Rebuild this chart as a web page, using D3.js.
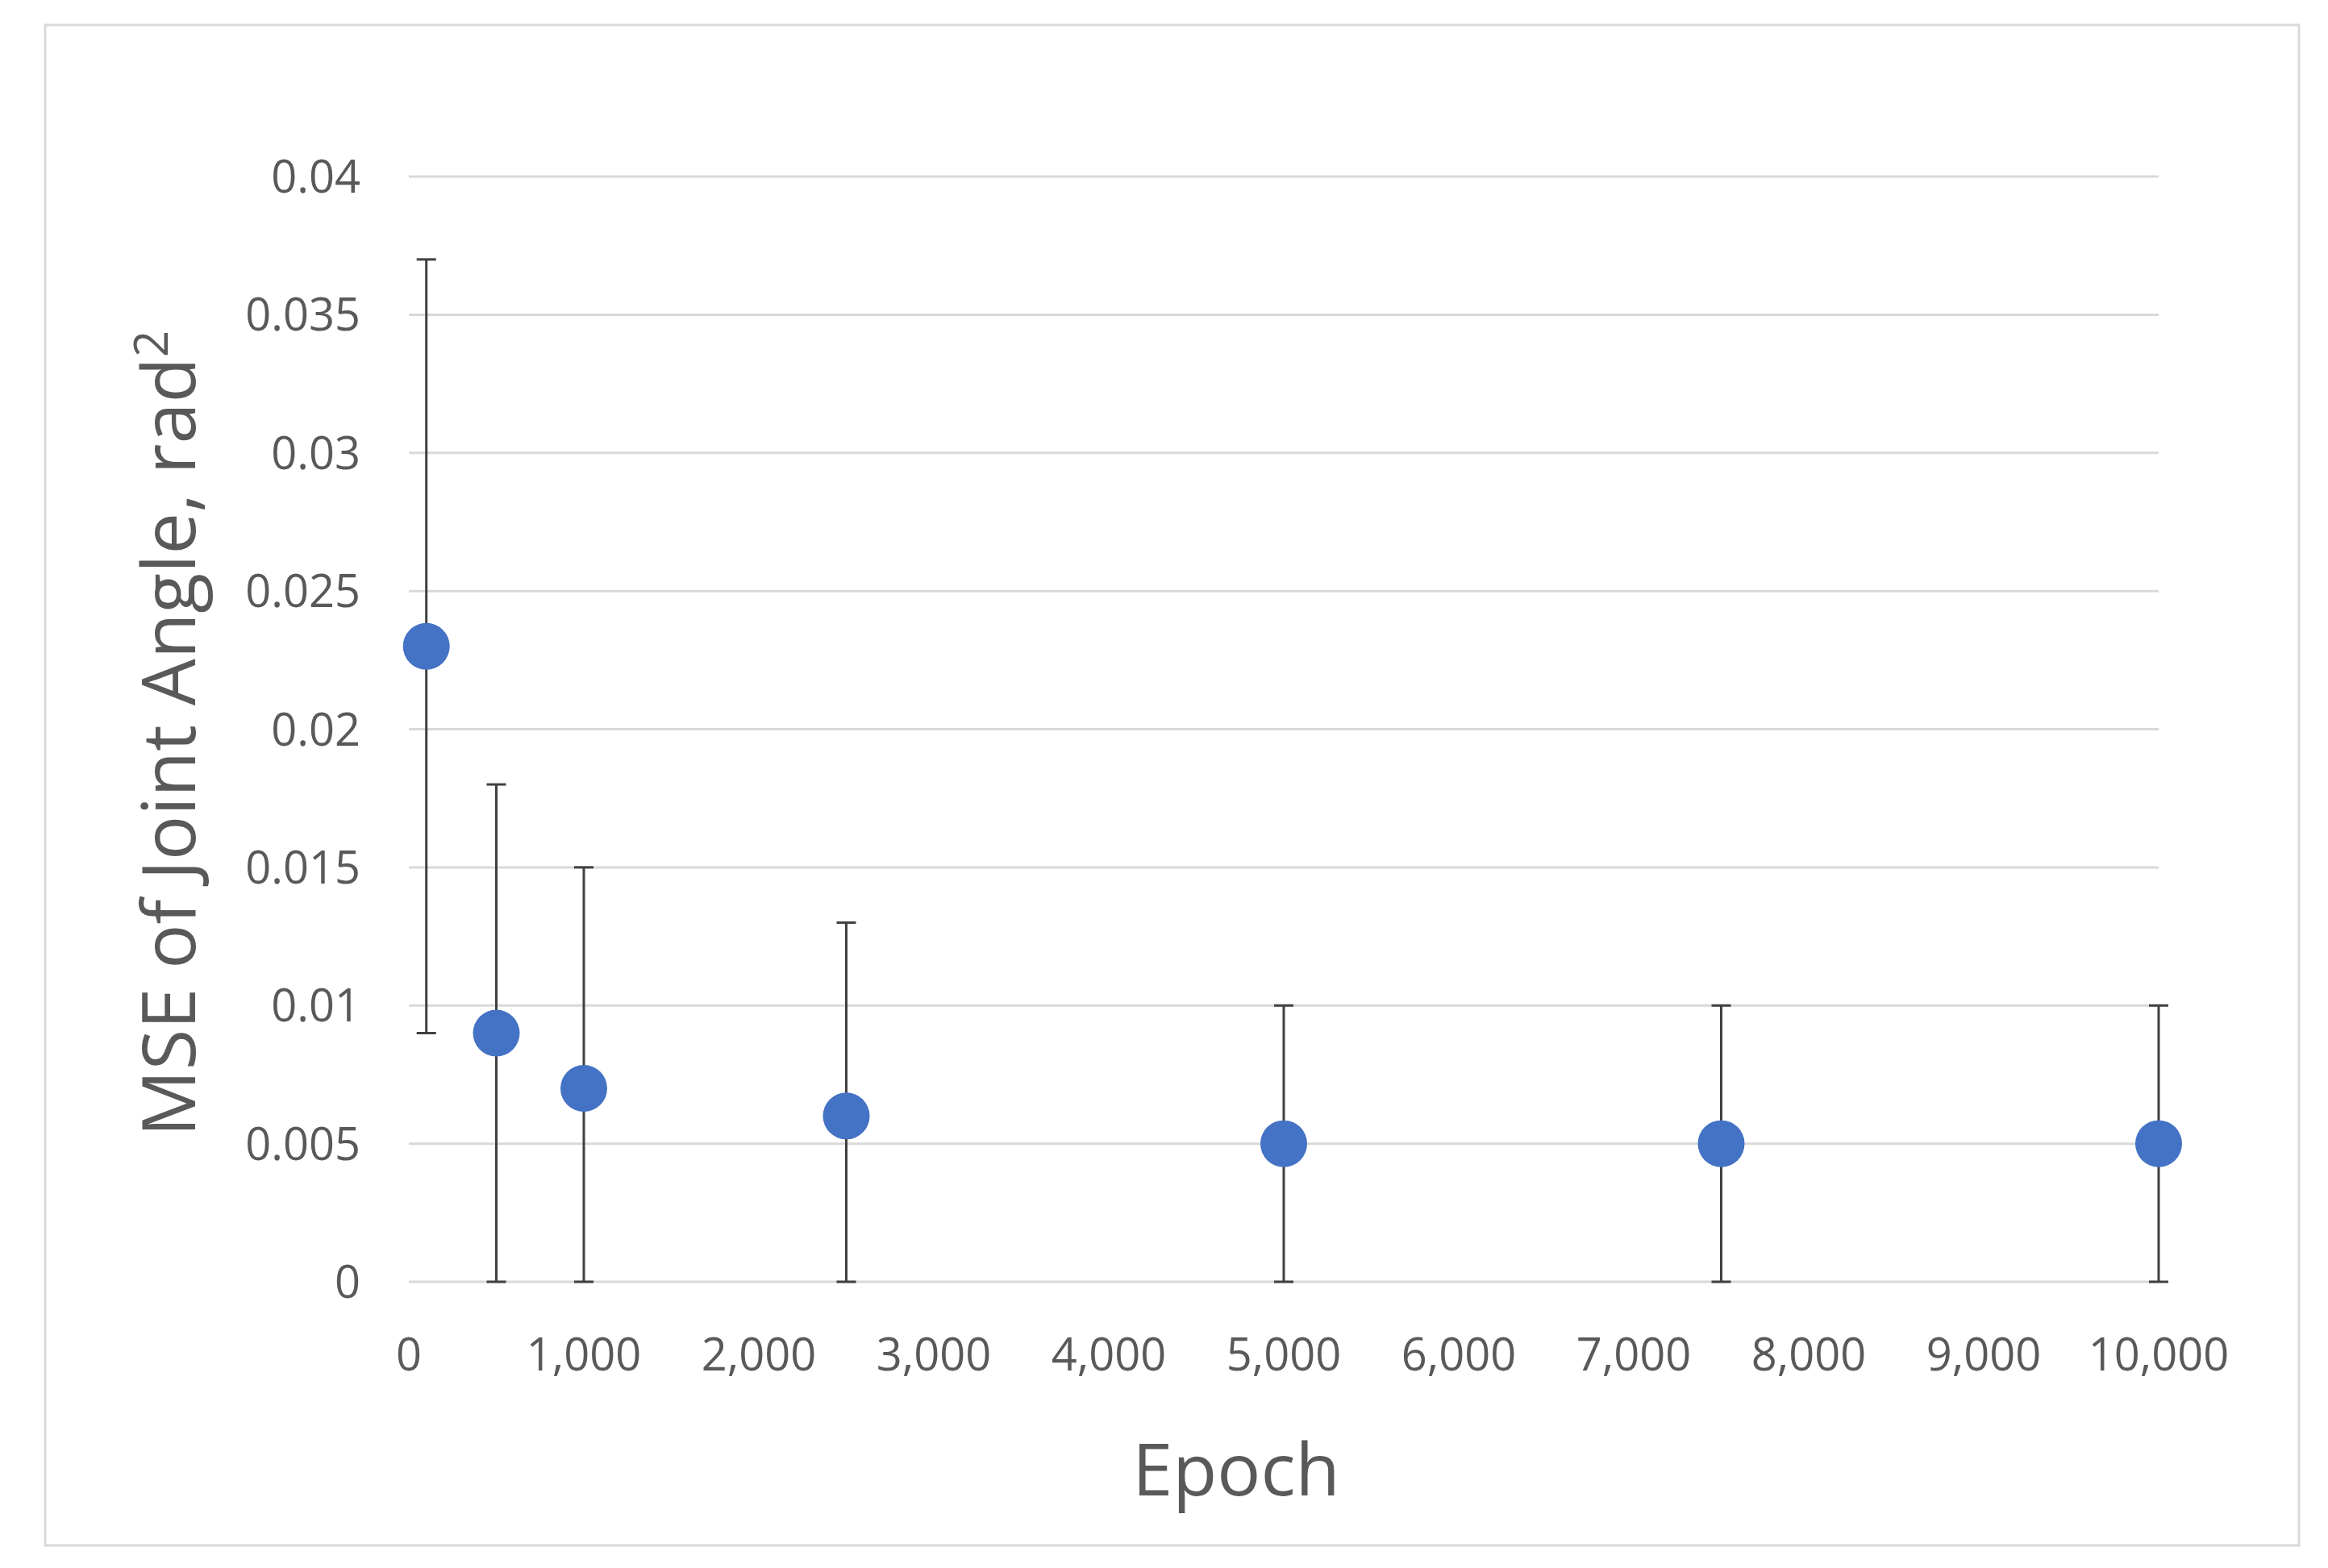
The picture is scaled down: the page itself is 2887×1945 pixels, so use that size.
<!DOCTYPE html>
<html><head><meta charset="utf-8">
<script src="https://cdn.jsdelivr.net/npm/d3@7"></script>
<style>body{margin:0;background:#fff}text{font-family:"Open Sans",Calibri,sans-serif;fill:#595959}</style>
</head><body><div id="chart"></div>
<script>
var epochs = [100, 500, 1000, 2500, 5000, 7500, 10000];
var mse = [0.023, 0.009, 0.007, 0.006, 0.005, 0.005, 0.005];
var errHigh = [0.037, 0.018, 0.015, 0.013, 0.010, 0.010, 0.010];
var errLow = [0.009, 0, 0, 0, 0, 0, 0];
var yTicks = [0, 0.005, 0.01, 0.015, 0.02, 0.025, 0.03, 0.035, 0.04];
var xTicks = [0, 1000, 2000, 3000, 4000, 5000, 6000, 7000, 8000, 9000, 10000];

var svg = d3.select('#chart').append('svg').attr('width', 2887).attr('height', 1945);
svg.append('rect').attr('x', 56).attr('y', 31).attr('width', 2795).attr('height', 1886)
   .attr('fill', '#fff').attr('stroke', '#d9d9d9').attr('stroke-width', 3);

var x = d3.scaleLinear().domain([0, 10000]).range([507, 2677]);
var y = d3.scaleLinear().domain([0, 0.04]).range([1590, 219]);

svg.selectAll('.grid').data(yTicks).enter().append('line')
   .attr('x1', x(0)).attr('x2', x(10000))
   .attr('y1', function(d) { return y(d); }).attr('y2', function(d) { return y(d); })
   .attr('stroke', '#d9d9d9').attr('stroke-width', 3);

svg.selectAll('.yl').data(yTicks).enter().append('text')
   .attr('x', 447).attr('y', function(d) { return y(d) + 20; })
   .attr('text-anchor', 'end').attr('font-size', 56)
   .text(function(d) { return d === 0 ? '0' : String(+d.toFixed(3)); });

svg.selectAll('.xl').data(xTicks).enter().append('text')
   .attr('x', function(d) { return x(d); }).attr('y', 1700)
   .attr('text-anchor', 'middle').attr('font-size', 56)
   .text(function(d) { return d3.format(',')(d); });

var g = svg.append('g');
epochs.forEach(function(e, i) {
  var cx = x(e);
  g.append('line').attr('x1', cx).attr('x2', cx).attr('y1', y(errLow[i])).attr('y2', y(errHigh[i]))
   .attr('stroke', '#404040').attr('stroke-width', 3);
  [errLow[i], errHigh[i]].forEach(function(v) {
    g.append('line').attr('x1', cx - 12).attr('x2', cx + 12).attr('y1', y(v)).attr('y2', y(v))
     .attr('stroke', '#404040').attr('stroke-width', 3);
  });
});
g.selectAll('circle').data(epochs).enter().append('circle')
 .attr('cx', function(d) { return x(d); }).attr('cy', function(d, i) { return y(mse[i]); })
 .attr('r', 29).attr('fill', '#4472c4');

svg.append('text').attr('x', 1533).attr('y', 1855).attr('text-anchor', 'middle')
   .attr('font-size', 90).text('Epoch');
var yt = svg.append('text').attr('transform', 'translate(242,910) rotate(-90)')
   .attr('text-anchor', 'middle').attr('font-size', 92);
yt.append('tspan').text('MSE of Joint Angle, rad');
yt.append('tspan').attr('dy', -34).attr('font-size', 58).text('2');
</script></body></html>
